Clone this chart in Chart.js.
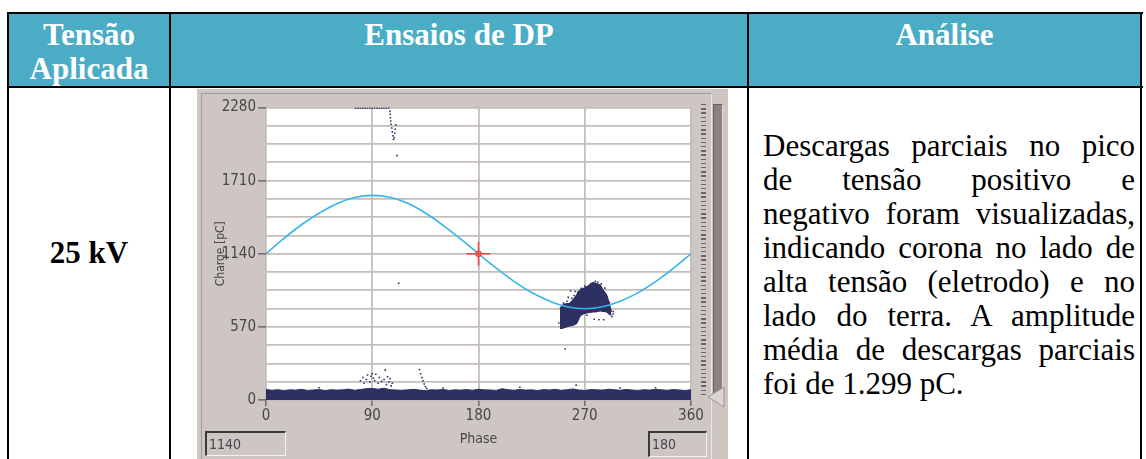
<!DOCTYPE html>
<html>
<head>
<meta charset="utf-8">
<script src="https://cdn.jsdelivr.net/npm/chart.js@4.4.1/dist/chart.umd.min.js"></script>
<style>
    body { margin: 0; width: 1146px; height: 459px; overflow: hidden; background: #fff; position: relative; font-family: 'Liberation Serif', 'Times New Roman', serif; }
    .abs { position: absolute; }
    .line { background: #000; position: absolute; }
    .head { position: absolute; color: #fff; font-weight: bold; font-size: 31px; line-height: 33.5px; text-align: center; }
    .txt div { text-align: justify; text-align-last: justify; font-size: 31px; line-height: 34px; height: 34px; color: #000; }
    .box { position: absolute; box-sizing: border-box; border-top: 2px solid #3c3a3c; border-left: 2px solid #3c3a3c; border-right: 1px solid #f3f0ee; border-bottom: 1px solid #f3f0ee; font-family: 'Liberation Sans Narrow', 'DejaVu Sans Condensed', sans-serif; font-size: 14px; line-height: 22px; padding-left: 2px; color: #4a4350; }
</style>
</head>
<body>
<div class="abs" style="left:8px;top:13px;width:1133px;height:74px;background:#4bacc6;"></div>
<div class="line" style="left:7px;top:12px;width:1136px;height:2px;"></div>
<div class="line" style="left:7px;top:86px;width:1136px;height:2px;"></div>
<div class="line" style="left:7px;top:12px;width:2px;height:460px;"></div>
<div class="line" style="left:169px;top:12px;width:2px;height:460px;"></div>
<div class="line" style="left:747px;top:12px;width:2px;height:460px;"></div>
<div class="line" style="left:1140px;top:12px;width:2px;height:460px;"></div>

<div class="head" style="left:9px;top:18px;width:160px;">Tensão<br>Aplicada</div>
<div class="head" style="left:171px;top:18px;width:576px;">Ensaios de DP</div>
<div class="head" style="left:749px;top:18px;width:391px;">Análise</div>
<div class="head" style="left:9px;top:236px;width:160px;color:#000;">25 kV</div>

<div class="abs txt" style="left:763px;top:129px;width:372px;">
    <div>Descargas parciais no pico</div>
    <div>de tensão positivo e</div>
    <div>negativo foram visualizadas,</div>
    <div>indicando corona no lado de</div>
    <div>alta tensão (eletrodo) e no</div>
    <div>lado do terra. A amplitude</div>
    <div>média de descargas parciais</div>
    <div style="text-align-last:left;">foi de 1.299 pC.</div>
</div>

<!-- instrument panel -->
<div class="abs" style="left:197px;top:89px;width:531px;height:372px;background:#cdc6c2;"></div>
<div class="abs" style="left:201px;top:93px;width:509px;height:366px;border-left:1px solid #a39b98;border-top:1px solid #a39b98;border-right:1px solid #ebe7e5;"></div>
<div class="abs" style="left:701px;top:104px;width:5px;height:294px;background:repeating-linear-gradient(to bottom,#6b6462 0 1.4px,transparent 1.4px 4.2px);"></div>
<div class="abs" style="left:713px;top:104px;width:8px;height:290px;background:#8d817f;border-left:1px solid #6c6260;border-top:1px solid #6c6260;border-right:1px solid #e2dcda;"></div>
<svg class="abs" style="left:707px;top:386px;" width="19" height="22"><polygon points="1,11 17,1 17,21" fill="#dcd6d3" stroke="#9b9390" stroke-width="1"/></svg>
<canvas id="prpd" class="abs" style="left:202px;top:94px;" width="510" height="362"></canvas>
<div class="box" id="chargeBox" style="left:205px;top:431px;width:81px;height:25px;"></div>
<div class="box" id="phaseBox" style="left:648px;top:431px;width:59px;height:26px;"></div>

<script>
const cursorPhase = 180;
const cursorCharge = 1140;
const chargeLabels = [0, 570, 1140, 1710, 2280];
const phaseLabels = [0, 90, 180, 270, 360];

// applied voltage reference (sine)
const sinePhase = [0, 15, 30, 45, 60, 75, 90, 105, 120, 135, 150, 165, 180,
    195, 210, 225, 240, 255, 270, 285, 300, 315, 330, 345, 360];
const sineCharge = [1140, 1258, 1366, 1456, 1530, 1578, 1595, 1580, 1534, 1458, 1362, 1254, 1140,
    1028, 925, 838, 772, 727, 711, 727, 770, 835, 923, 1026, 1140];

// noise floor band (top edge)
const bandPhase = [0, 5, 10, 15, 20, 25, 30, 35, 40, 45,
    50, 55, 60, 65, 70, 75, 80, 85, 90, 95,
    100, 105, 110, 115, 120, 125, 130, 135, 140, 145,
    150, 155, 160, 165, 170, 175, 180, 185, 190, 195,
    200, 205, 210, 215, 220, 225, 230, 235, 240, 245,
    250, 255, 260, 265, 270, 275, 280, 285, 290, 295,
    300, 305, 310, 315, 320, 325, 330, 335, 340, 345,
    350, 355, 360];
const bandCharge = [82, 76, 80, 74, 79, 77, 83, 75, 78, 81,
    74, 80, 77, 79, 85, 76, 82, 88, 90, 84,
    92, 80, 78, 76, 79, 83, 77, 74, 80, 78,
    82, 75, 79, 77, 81, 76, 84, 79, 78, 75,
    88, 80, 76, 82, 77, 79, 74, 81, 78, 83,
    76, 80, 86, 78, 75, 81, 79, 77, 84, 80,
    76, 82, 78, 75, 80, 77, 83, 79, 76, 81,
    78, 74, 80];

// negative half-cycle discharge cluster
const clusterPhase = [249, 251.5, 254.5, 257, 260, 263, 266, 268.5, 271.5, 274, 277, 280, 283, 285.5, 288.5, 291, 292.5];
const clusterTop = [713, 739, 751, 751, 777, 816, 855, 868, 881, 894, 914, 907, 894, 855, 816, 739, 687];
const clusterBottom = [558, 562, 571, 578, 584, 598, 655, 672, 679, 683, 687, 690, 695, 692, 687, 670, 661];

// isolated pulses
const sparsePhase = [76, 78, 80, 82, 84, 86, 88, 90, 92, 94, 96, 98, 100, 102, 104,
    105, 105.2, 105.4, 105.6, 106, 106.5, 107, 107.5, 108, 108.5, 109, 109.5, 110, 111,
    112.4,
    80, 82, 83, 85, 86, 88, 89, 90, 91, 92, 93, 95, 96, 98, 100, 101, 102, 103, 104, 105, 106, 107,
    130, 131, 132, 133, 134, 135, 136,
    253.4, 262.7, 250, 256, 258, 262, 278, 282, 286, 293, 294,
    248, 252, 255, 259, 261, 264, 267, 270, 272, 275, 279, 281, 284, 287, 289, 291, 294,
    45, 150, 215, 300, 330];
const sparseCharge = [2274, 2274, 2276, 2274, 2276, 2274, 2276, 2274, 2276, 2274, 2276, 2274, 2276, 2274, 2276,
    2250, 2225, 2200, 2175, 2150, 2120, 2090, 2060, 2030, 2045, 2080, 2110, 2145, 1905,
    910,
    150, 175, 130, 160, 195, 140, 185, 205, 170, 150, 200, 130, 175, 145, 160, 233, 120, 181, 140, 165, 110, 130,
    238, 205, 175, 150, 125, 105, 92,
    398, 116, 620, 800, 850, 845, 630, 625, 625, 650, 670,
    600, 755, 770, 792, 815, 840, 870, 888, 660, 905, 925, 918, 905, 872, 700, 760, 690,
    95, 93, 100, 95, 96];

const navy = '#2e3064';
const axisFont = "'Liberation Sans Narrow', 'DejaVu Sans Condensed', 'Arial Narrow', sans-serif";

function pairs(xs, ys) {
    return xs.map((x, i) => ({ x: x, y: ys[i] }));
}

const plotBackground = {
    id: 'plotBackground',
    beforeDraw(chart) {
        const { ctx, chartArea } = chart;
        ctx.save();
        ctx.fillStyle = '#ffffff';
        ctx.fillRect(chartArea.left, chartArea.top, chartArea.right - chartArea.left, chartArea.bottom - chartArea.top);
        ctx.restore();
    }
};

document.getElementById('chargeBox').textContent = cursorCharge;
document.getElementById('phaseBox').textContent = cursorPhase;

const ctx = document.getElementById('prpd').getContext('2d');
new Chart(ctx, {
    type: 'line',
    data: {
        datasets: [{
            label: 'cursor',
            type: 'scatter',
            data: [{ x: cursorPhase, y: cursorCharge }],
            pointStyle: 'cross',
            pointRadius: 12,
            borderColor: '#e8473f',
            borderWidth: 1.5,
            order: 0
        },
        {
            label: 'cursor ring',
            type: 'scatter',
            data: [{ x: cursorPhase, y: cursorCharge }],
            pointStyle: 'circle',
            pointRadius: 2.6,
            borderColor: '#e8473f',
            backgroundColor: 'rgba(0,0,0,0)',
            borderWidth: 1.3,
            order: 0
        },
        {
            label: 'Tensão',
            data: pairs(sinePhase, sineCharge),
            borderColor: '#36b6e8',
            borderWidth: 1.6,
            pointRadius: 0,
            tension: 0.4,
            fill: false,
            order: 1
        },
        {
            label: 'cluster low',
            data: pairs(clusterPhase, clusterBottom),
            borderColor: navy,
            borderWidth: 1.5,
            pointRadius: 0,
            tension: 0.2,
            fill: false,
            order: 2
        },
        {
            label: 'cluster high',
            data: pairs(clusterPhase, clusterTop),
            borderColor: navy,
            backgroundColor: navy,
            borderWidth: 1.5,
            pointRadius: 0,
            tension: 0.2,
            fill: '-1',
            order: 2
        },
        {
            label: 'band',
            data: pairs(bandPhase, bandCharge),
            borderColor: navy,
            backgroundColor: navy,
            borderWidth: 1,
            pointRadius: 0,
            tension: 0,
            fill: 'origin',
            order: 3
        },
        {
            label: 'pulses',
            type: 'scatter',
            data: pairs(sparsePhase, sparseCharge),
            pointStyle: 'rect',
            pointRadius: 1.1,
            borderWidth: 0,
            backgroundColor: navy,
            order: 4
        }]
    },
    options: {
        responsive: false,
        animation: false,
        layout: { padding: { top: 12, right: 21, bottom: 0, left: 0 } },
        plugins: {
            legend: { display: false },
            tooltip: { enabled: false }
        },
        scales: {
            x: {
                type: 'linear',
                min: 0,
                max: 360,
                afterFit: function (scale) { scale.height = 56; },
                ticks: {
                    stepSize: 90,
                    autoSkip: false,
                    padding: 1,
                    maxRotation: 0,
                    color: '#4a4646',
                    font: { family: axisFont, size: 15 },
                    callback: v => phaseLabels.includes(v) ? v : ''
                },
                grid: {
                    color: '#c4bdba',
                    lineWidth: 1.8,
                    tickLength: 6,
                    tickColor: '#3e3b3b',
                    tickWidth: 1
                },
                border: { display: false },
                title: {
                    display: true,
                    text: 'Phase',
                    color: '#4a4646',
                    font: { family: axisFont, size: 14 },
                    padding: { top: 0, bottom: 8 }
                }
            },
            y: {
                min: 0,
                max: 2280,
                afterFit: function (scale) { scale.width = 64; },
                ticks: {
                    stepSize: 142.5,
                    autoSkip: false,
                    padding: 2,
                    color: '#4a4646',
                    font: { family: axisFont, size: 15 },
                    callback: v => chargeLabels.includes(Math.round(v)) ? Math.round(v) : ''
                },
                grid: {
                    color: '#c4bdba',
                    lineWidth: 1.8,
                    tickLength: 8,
                    tickWidth: 1,
                    tickColor: c => chargeLabels.includes(Math.round(c.tick.value)) ? '#3e3b3b' : 'rgba(0,0,0,0)'
                },
                border: { display: false },
                title: {
                    display: true,
                    text: 'Charge [pC]',
                    color: '#4a4646',
                    font: { family: axisFont, size: 12 },
                    padding: { top: 12, bottom: 0 }
                }
            }
        }
    },
    plugins: [plotBackground]
});
</script>
</body>
</html>
